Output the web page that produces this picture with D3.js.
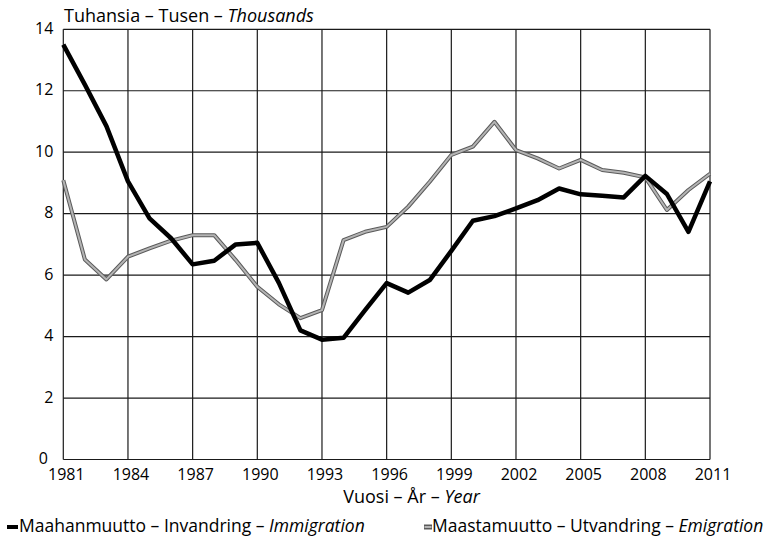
<!DOCTYPE html>
<html>
<head>
<meta charset="utf-8">
<script src="https://cdn.jsdelivr.net/npm/d3@7"></script>
<style>
  html, body { margin: 0; padding: 0; background: #fff; }
  text { font-family: "Open Sans", "DejaVu Sans", sans-serif; fill: #000; }
</style>
</head>
<body>
<svg id="chart" width="774" height="537"></svg>
<script>
const years = d3.range(1981, 2012);
const immigration = [13.5, 12.2, 10.85, 9.05, 7.85, 7.2, 6.35, 6.47, 7.0, 7.05, 5.75, 4.2, 3.9, 3.96, 4.86, 5.74, 5.43, 5.84, 6.79, 7.77, 7.92, 8.17, 8.44, 8.82, 8.63, 8.58, 8.53, 9.23, 8.64, 7.41, 9.05];
const emigration = [9.09, 6.51, 5.86, 6.6, 6.87, 7.12, 7.3, 7.3, 6.49, 5.62, 5.05, 4.6, 4.86, 7.14, 7.41, 7.57, 8.23, 9.04, 9.91, 10.18, 10.99, 10.07, 9.8, 9.47, 9.75, 9.42, 9.33, 9.18, 8.12, 8.77, 9.3];
const xTicks = [1981, 1984, 1987, 1990, 1993, 1996, 1999, 2002, 2005, 2008, 2011];
const yTicks = [0, 2, 4, 6, 8, 10, 12, 14];

const svg = d3.select("#chart");
const pLeft = 63.3, pRight = 710, pTop = 29.3, pBottom = 459.5;
const x = d3.scaleLinear().domain([1981, 2011]).range([pLeft, pRight]);
const y = d3.scaleLinear().domain([0, 14]).range([pBottom, pTop]);

// gridlines
const g = svg.append("g");
g.selectAll("line.h").data(yTicks).join("line")
  .attr("x1", pLeft).attr("x2", pRight)
  .attr("y1", d => y(d)).attr("y2", d => y(d))
  .attr("stroke", "#1a1a1a").attr("stroke-width", 1.2);
g.selectAll("line.v").data(xTicks).join("line")
  .attr("y1", pTop).attr("y2", pBottom)
  .attr("x1", d => x(d)).attr("x2", d => x(d))
  .attr("stroke", "#1a1a1a").attr("stroke-width", 1.2);

// y labels
svg.append("g").selectAll("text").data(yTicks).join("text")
  .attr("x", d => d === 0 ? pLeft - 15.5 : pLeft - 10).attr("y", d => y(d) - 1)
  .attr("dy", "0.35em").attr("text-anchor", "end")
  .attr("font-size", 16).text(d => d);

// x labels
svg.append("g").selectAll("text").data(xTicks).join("text")
  .attr("x", d => x(d) + 3).attr("y", 480)
  .attr("text-anchor", "middle")
  .attr("font-size", 16).text(d => d);

// title
const t = svg.append("text").attr("x", 64).attr("y", 22).attr("font-size", 18);
t.append("tspan").text("Tuhansia \u2013 Tusen \u2013 ");
t.append("tspan").attr("font-style", "italic").text("Thousands");

// x axis title
const xt = svg.append("text").attr("x", 411.5).attr("y", 503).attr("font-size", 18).attr("text-anchor", "middle");
xt.append("tspan").text("Vuosi \u2013 \u00c5r \u2013 ");
xt.append("tspan").attr("font-style", "italic").text("Year");

// lines
const line = d3.line().x((d, i) => x(years[i])).y(d => y(d));
svg.append("path").datum(emigration).attr("d", line)
  .attr("fill", "none").attr("stroke", "#5a5a5a").attr("stroke-width", 4)
  .attr("stroke-linejoin", "round");
svg.append("path").datum(emigration).attr("d", line)
  .attr("fill", "none").attr("stroke", "#b4b4b4").attr("stroke-width", 2)
  .attr("stroke-linejoin", "round");
svg.append("path").datum(immigration).attr("d", line)
  .attr("fill", "none").attr("stroke", "#000").attr("stroke-width", 4.5)
  .attr("stroke-linejoin", "round");

// legend
svg.append("rect").attr("x", 7).attr("y", 525).attr("width", 11).attr("height", 4).attr("fill", "#000");
const l1 = svg.append("text").attr("x", 19).attr("y", 531.5).attr("font-size", 17.5);
l1.append("tspan").text("Maahanmuutto \u2013 Invandring \u2013 ");
l1.append("tspan").attr("font-style", "italic").text("Immigration");

svg.append("rect").attr("x", 424).attr("y", 524.5).attr("width", 8).attr("height", 5).attr("fill", "#5a5a5a");
svg.append("rect").attr("x", 424.5).attr("y", 526).attr("width", 7).attr("height", 2).attr("fill", "#b4b4b4");
const l2 = svg.append("text").attr("x", 432).attr("y", 531.5).attr("font-size", 17.5);
l2.append("tspan").text("Maastamuutto \u2013 Utvandring \u2013 ");
l2.append("tspan").attr("font-style", "italic").text("Emigration");
</script>
</body>
</html>
